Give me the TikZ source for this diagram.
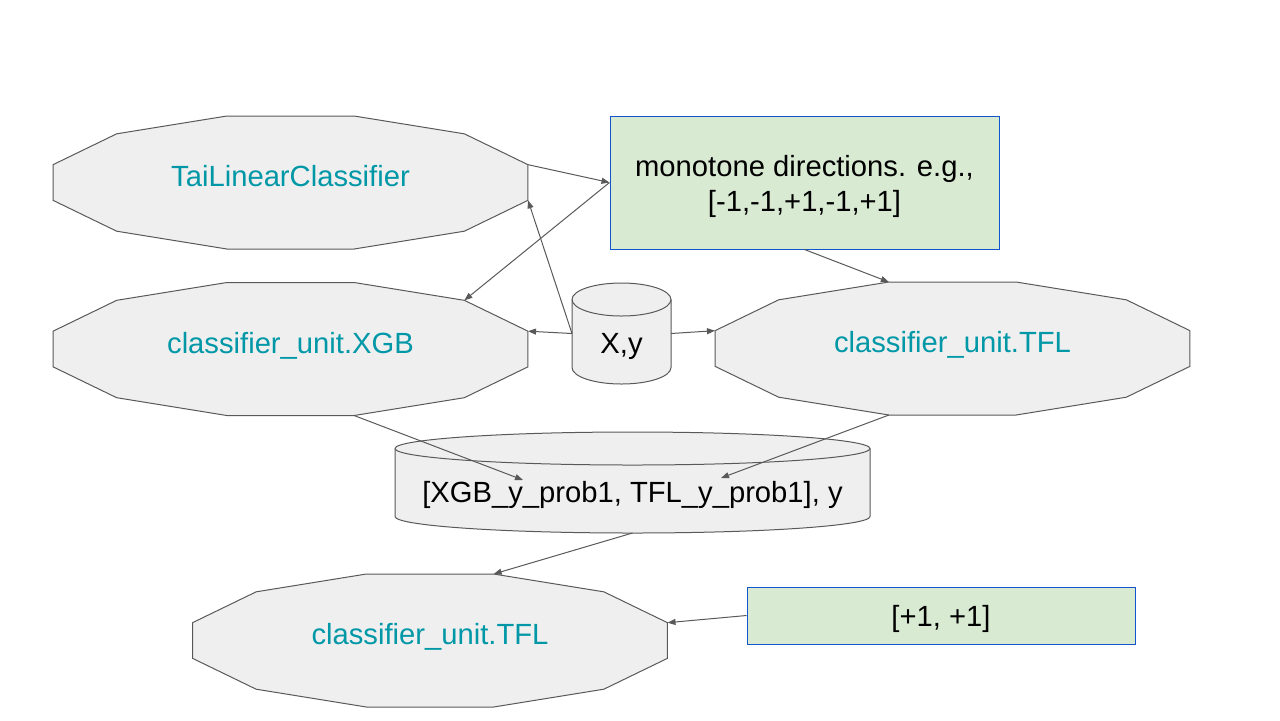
\documentclass[tikz,border=0pt]{standalone}
\usepackage{fontspec}
\setmainfont{Liberation Sans}
\usetikzlibrary{shapes.geometric,arrows.meta}
\definecolor{linegray}{HTML}{595959}
\definecolor{shapegray}{HTML}{EFEFEF}
\definecolor{boxgreen}{HTML}{D9EAD3}
\definecolor{boxblue}{HTML}{1155CC}
\definecolor{unitteal}{HTML}{0097A7}
\tikzset{
  unitshape/.style={regular polygon, regular polygon sides=12, draw=linegray, fill=shapegray,
    line width=0.5pt, inner sep=0pt, outer sep=0pt, minimum size=68.85pt,
    xscale=3.571, transform shape},
  unitlabel/.style={text=unitteal, font=\fontsize{14.6}{17.5}\selectfont, anchor=base, yshift=-2.2pt},
  dirbox/.style={draw=boxblue, fill=boxgreen, line width=0.5pt, inner sep=0pt, align=center,
    font=\fontsize{14.6}{17.5}\selectfont},
  datacyl/.style n args={3}{inner sep=0pt, outer sep=0pt, minimum width=#1, minimum height=#2,
    append after command={\pgfextra{\let\cylnode\tikzlastnode
      \draw[draw=linegray, fill=shapegray, line width=0.5pt]
        ([yshift=-#3]\cylnode.north west) -- ([yshift=#3]\cylnode.south west)
        arc[start angle=180, end angle=360, x radius=0.5*#1, y radius=#3]
        -- ([yshift=-#3]\cylnode.north east)
        arc[start angle=0, end angle=180, x radius=0.5*#1, y radius=#3] -- cycle;
      \draw[draw=linegray, line width=0.5pt] ([yshift=-#3]\cylnode.north west)
        arc[start angle=180, end angle=360, x radius=0.5*#1, y radius=#3];}}},
  datalabel/.style={font=\fontsize{14.6}{17.5}\selectfont, anchor=base, yshift=-9.75pt},
  feed/.style={draw=linegray, line width=0.5pt, -{Triangle[length=4pt,width=3pt]}}
}
\begin{document}
\begin{tikzpicture}[x=0.5pt, y=-0.5pt]
  \useasboundingbox (0,0) rectangle (1280,720);

  % classifier units
  \node[unitshape] (tai)  at (290.5, 182.5) {};
  \node[unitshape] (xgb)  at (290.5, 349)   {};
  \node[unitshape] (tfl)  at (952.5, 348.5) {};
  \node[unitshape] (meta) at (430,   640.5) {};
  \node[unitlabel] (tai-t)  at (tai)  {TaiLinearClassifier};
  \node[unitlabel] (xgb-t)  at (xgb)  {classifier\_unit.XGB};
  \node[unitlabel] (tfl-t)  at (tfl)  {classifier\_unit.TFL};
  \node[unitlabel] (meta-t) at (meta) {classifier\_unit.TFL};

  % monotone directions
  \node[dirbox, minimum width=194.5pt, minimum height=66.5pt, text height=31.6pt] (mono) at (804.5, 182.5)
    {monotone directions. e.g.,\\ {[-1,-1,+1,-1,+1]}};
  \node[dirbox, minimum width=194pt, minimum height=28.5pt, text height=13.6pt] (ones) at (941, 615.5) {[+1, +1]};

  % data
  \node[datacyl={49.5pt}{50.5pt}{8.25pt}] (xy) at (621.5, 333.5) {};
  \node[datacyl={237.5pt}{50.5pt}{8.25pt}] (probs) at (632.5, 482.5) {};
  \node[datalabel] (xy-t)    at (xy)    {X,y};
  \node[datalabel] (probs-t) at (probs) {[XGB\_y\_prob1, TFL\_y\_prob1], y};

  \draw[feed] (tai.15) -- (mono.west);
  \draw[feed] (mono.west) -- (xgb.45);
  \draw[feed] (xy.west) -- (tai.-15);
  \draw[feed] (xy.west) -- (xgb.15);
  \draw[feed] (xy.east) -- (tfl.165);
  \draw[feed] (mono.south) -- (tfl.105);
  \draw[feed] (xgb.-75) -- ([shift={(-109.5,-2.5)}]probs.center);
  \draw[feed] (tfl.-105) -- ([shift={(88.5,-4.5)}]probs.center);
  \draw[feed] (probs.south) -- (meta.75);
  \draw[feed] (ones.west) -- (meta.15);
\end{tikzpicture}
\end{document}
